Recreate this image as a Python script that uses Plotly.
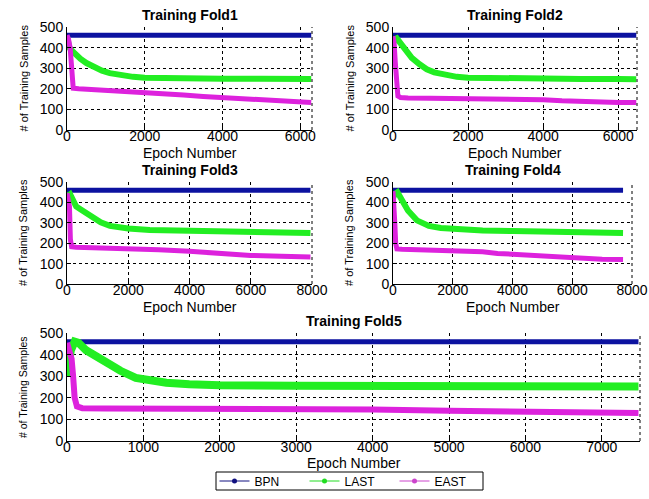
import plotly.graph_objects as go

# ---- data -----------------------------------------------------------------
bpn_level = 460

fold1_end = 6280
fold1_last_x = [0, 20, 60, 100, 200, 350, 500, 700, 900, 1100, 1400, 1700, 2000, 2500, 3000, 4000, 5000, 6000, 6280]
fold1_last_y = [455, 430, 400, 390, 370, 345, 325, 303, 288, 276, 265, 258, 254, 251, 250, 249, 249, 248, 248]
fold1_east_x = [0, 40, 80, 120, 160, 300, 600, 1000, 1500, 2000, 2500, 3000, 3500, 4000, 4500, 5000, 5500, 6000, 6280]
fold1_east_y = [460, 440, 400, 250, 203, 200, 197, 194, 190, 185, 178, 170, 163, 157, 152, 147, 140, 136, 133]

fold2_end = 6480
fold2_last_x = [0, 40, 100, 200, 350, 500, 700, 900, 1100, 1400, 1700, 2000, 2500, 3000, 4000, 5000, 6000, 6480]
fold2_last_y = [420, 440, 445, 420, 385, 350, 320, 295, 280, 266, 258, 254, 252, 250, 249, 248, 247, 246]
fold2_east_x = [0, 30, 60, 90, 130, 200, 400, 1000, 2000, 3000, 3500, 4000, 4500, 5000, 5500, 6000, 6480]
fold2_east_y = [455, 420, 330, 200, 165, 158, 155, 154, 153, 152, 150, 147, 142, 138, 136, 134, 133]

fold3_end = 7950
fold3_last_x = [0, 50, 100, 200, 300, 450, 650, 850, 1100, 1400, 1700, 2000, 2700, 3500, 4500, 5500, 6500, 7500, 7950]
fold3_last_y = [430, 440, 440, 410, 380, 365, 346, 322, 302, 285, 277, 272, 265, 262, 260, 258, 255, 252, 250]
fold3_east_x = [0, 40, 80, 110, 150, 300, 1000, 2000, 3000, 4000, 5000, 5500, 6000, 7000, 7950]
fold3_east_y = [445, 420, 380, 220, 183, 180, 178, 174, 168, 160, 150, 144, 140, 136, 132]

fold4_end = 7700
fold4_last_x = [0, 50, 150, 300, 500, 800, 1200, 1600, 2000, 3000, 4000, 5000, 6000, 7000, 7700]
fold4_last_y = [420, 440, 450, 410, 360, 312, 285, 275, 270, 262, 260, 258, 255, 252, 250]
fold4_east_x = [0, 30, 60, 90, 130, 300, 1000, 2000, 3000, 3500, 4000, 4500, 5000, 6000, 6500, 7000, 7700]
fold4_east_y = [455, 400, 300, 200, 172, 170, 168, 165, 158, 150, 145, 140, 136, 128, 124, 121, 120]

fold5_end = 7480
fold5_last_x = [0, 20, 50, 100, 150, 250, 400, 550, 700, 900, 1100, 1300, 1600, 2000, 3000, 4000, 5000, 6000, 7000, 7480]
fold5_last_y = [300, 350, 420, 460, 455, 420, 385, 355, 325, 292, 278, 270, 263, 258, 256, 255, 254, 253, 252, 252]
fold5_east_x = [0, 30, 60, 80, 100, 130, 200, 500, 1000, 2000, 3000, 4000, 5000, 6000, 7000, 7480]
fold5_east_y = [455, 410, 380, 300, 200, 160, 152, 150, 150, 150, 150, 146, 140, 135, 131, 130]

fold_titles = ["Training Fold1", "Training Fold2", "Training Fold3", "Training Fold4", "Training Fold5"]
x_limits = [6300, 6500, 8000, 8000, 7500]
x_dticks = [2000, 2000, 2000, 2000, 1000]
y_ticks = [0, 100, 200, 300, 400, 500]
series_names = ["BPN", "LAST", "EAST"]

# ---- styling --------------------------------------------------------------
W, H = 649, 491
FONT = "Arial, Liberation Sans, sans-serif"
C_BPN, C_LAST, C_EAST = "#0c12a0", "#22ee22", "#dd22dd"
C_BPN_LEG, C_LAST_LEG, C_EAST_LEG = "#101080", "#22dd22", "#cc44cc"

# panel boxes in pixels: (left, right, top, bottom)
boxes = [
    (67, 312, 27, 130),
    (393, 637, 27, 130),
    (67, 312, 182, 284),
    (393, 632, 182, 284),
    (67, 640, 333, 441),
]
legend_box = (216, 483, 472, 490)

folds = [
    (fold1_end, fold1_last_x, fold1_last_y, fold1_east_x, fold1_east_y),
    (fold2_end, fold2_last_x, fold2_last_y, fold2_east_x, fold2_east_y),
    (fold3_end, fold3_last_x, fold3_last_y, fold3_east_x, fold3_east_y),
    (fold4_end, fold4_last_x, fold4_last_y, fold4_east_x, fold4_east_y),
    (fold5_end, fold5_last_x, fold5_last_y, fold5_east_x, fold5_east_y),
]


def px(x):
    return x / W


def py(y):
    return 1 - y / H


fig = go.Figure()
layout = dict(
    width=W, height=H,
    margin=dict(l=0, r=0, t=0, b=0, autoexpand=False),
    paper_bgcolor="white", plot_bgcolor="white",
    font=dict(family=FONT, size=14, color="black"),
    showlegend=True,
)
annotations = []
shapes = []

for i, (box, fold) in enumerate(zip(boxes, folds)):
    L, R, T, B = box
    end, lx, ly, ex, ey = fold
    n = "" if i == 0 else str(i + 1)
    xa, ya = "x" + n, "y" + n
    wide = i == 4

    fig.add_trace(go.Scatter(x=[0, end], y=[bpn_level, bpn_level], mode="lines",
                             line=dict(color=C_BPN, width=5), xaxis=xa, yaxis=ya,
                             showlegend=False, hoverinfo="skip"))
    fig.add_trace(go.Scatter(x=lx, y=ly, mode="lines",
                             line=dict(color=C_LAST, width=8 if wide else 6),
                             xaxis=xa, yaxis=ya, showlegend=False, hoverinfo="skip"))
    fig.add_trace(go.Scatter(x=ex, y=ey, mode="lines",
                             line=dict(color=C_EAST, width=6 if wide else 5),
                             xaxis=xa, yaxis=ya, showlegend=False, hoverinfo="skip"))

    common = dict(showline=True, linecolor="black", linewidth=1,
                  ticks="inside", ticklen=4, tickcolor="black",
                  showgrid=True, gridcolor="black", gridwidth=1, griddash="dot",
                  zeroline=False, tickfont=dict(size=14, family=FONT))
    layout["xaxis" + n] = dict(domain=[px(L), px(R)], range=[0, x_limits[i]],
                               tick0=0, dtick=x_dticks[i], anchor=ya,
                               ticklabelstandoff=-7, ticklabeloverflow="allow", **common)
    layout["yaxis" + n] = dict(domain=[py(B), py(T)], range=[0, 500],
                               tickvals=y_ticks, anchor=xa, **common)

    # dotted right edge of the axes
    shapes.append(dict(type="line", xref=xa + " domain", yref=ya + " domain",
                       x0=1, x1=1, y0=0, y1=1,
                       line=dict(color="black", width=1, dash="dot")))

    cx = (L + R) / 2
    annotations.append(dict(text="<b>" + fold_titles[i] + "</b>", x=px(cx), y=py(T - 12),
                            xref="paper", yref="paper", showarrow=False,
                            xanchor="center", yanchor="middle",
                            font=dict(size=14, family=FONT)))
    annotations.append(dict(text="Epoch Number", x=px(cx), y=py(B + (22 if wide else 23)),
                            xref="paper", yref="paper", showarrow=False,
                            xanchor="center", yanchor="middle",
                            font=dict(size=14, family=FONT)))
    annotations.append(dict(text="# of Training Samples", x=px(L - 44), y=py((T + B) / 2),
                            xref="paper", yref="paper", showarrow=False, textangle=-90,
                            xanchor="center", yanchor="middle",
                            font=dict(size=10.5 if wide else 11, family=FONT)))

# legend entries
for name, col in zip(series_names, [C_BPN_LEG, C_LAST_LEG, C_EAST_LEG]):
    fig.add_trace(go.Scatter(x=[None], y=[None], mode="lines+markers", name=name,
                             line=dict(color=col, width=1),
                             marker=dict(color=col, size=5),
                             xaxis="x5", yaxis="y5"))

# framed legend box
lL, lR, lT, lB = legend_box
shapes.append(dict(type="rect", xref="paper", yref="paper",
                   x0=px(lL), x1=px(lR), y0=py(lB), y1=py(lT),
                   fillcolor="white", line=dict(color="black", width=1)))
layout["legend"] = dict(orientation="h", x=px((lL + lR) / 2), y=py((lT + lB) / 2 - 14.5),
                        xanchor="center", yanchor="top",
                        bgcolor="rgba(0,0,0,0)", borderwidth=0,
                        font=dict(size=12, family=FONT), itemwidth=30,
                        entrywidth=45, tracegroupgap=0)
layout["annotations"] = annotations
layout["shapes"] = shapes
fig.update_layout(**layout)

fig.write_html("out.html")
